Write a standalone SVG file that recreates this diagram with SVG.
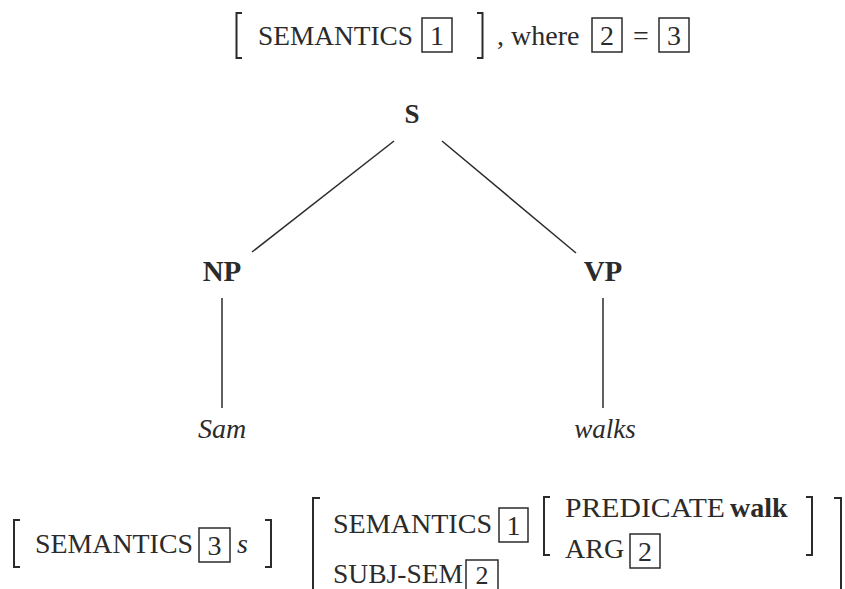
<svg xmlns="http://www.w3.org/2000/svg" width="845" height="589" viewBox="0 0 845 589">
<style>
text{font-family:"Liberation Serif","DejaVu Serif",serif;fill:#2b2b2b;font-size:28px}
.b{font-weight:bold}
.i{font-style:italic}
.c{text-anchor:middle}
.box{fill:none;stroke:#2b2b2b;stroke-width:1.5}
.br{fill:none;stroke:#2b2b2b;stroke-width:2}
.ln{stroke:#2b2b2b;stroke-width:1.5;fill:none}
</style>
<rect width="845" height="589" fill="#ffffff"/>
<g id="top-avm">
<path class="br" d="M242,13 H236.5 V58 H242"/>
<text x="258" y="45" textLength="155" lengthAdjust="spacingAndGlyphs">SEMANTICS</text>
<rect class="box" x="422" y="18" width="30" height="34"/>
<text class="c" x="437" y="45">1</text>
<path class="br" d="M477,13 H482.5 V58 H477"/>
<text x="497" y="45">, where</text>
<rect class="box" x="592" y="18" width="30" height="34"/>
<text class="c" x="607" y="45">2</text>
<text class="c" x="641" y="45">=</text>
<rect class="box" x="659" y="18" width="30" height="34"/>
<text class="c" x="674" y="45">3</text>
</g>
<g id="connectors">
<line class="ln" x1="394" y1="141" x2="252" y2="252"/>
<line class="ln" x1="442" y1="141" x2="576" y2="253"/>
<line class="ln" x1="222" y1="298" x2="222" y2="408"/>
<line class="ln" x1="603" y1="298" x2="603" y2="408"/>
</g>
<g id="node-S"><text class="b c" x="412" y="123" style="font-size:27px">S</text></g>
<g id="node-NP"><text class="b c" x="222" y="281" style="font-size:29px">NP</text></g>
<g id="node-VP"><text class="b c" x="603" y="281" style="font-size:29px">VP</text></g>
<g id="node-Sam"><text class="i c" x="222" y="438">Sam</text></g>
<g id="node-walks"><text class="i c" x="605" y="438" style="font-size:27px">walks</text></g>
<g id="np-avm">
<path class="br" d="M20,520 H14 V567 H20"/>
<text x="35" y="553" textLength="158" lengthAdjust="spacingAndGlyphs">SEMANTICS</text>
<rect class="box" x="199" y="528" width="31" height="34"/>
<text class="c" x="214.5" y="555">3</text>
<text class="i" x="237" y="553">s</text>
<path class="br" d="M265,520 H271 V567 H265"/>
</g>
<g id="vp-avm">
<path class="br" d="M320,498 H313 V600"/>
<text x="333" y="533" textLength="159" lengthAdjust="spacingAndGlyphs">SEMANTICS</text>
<rect class="box" x="499" y="508" width="29" height="34"/>
<text class="c" x="513.5" y="535">1</text>
<path class="br" d="M550,497 H544 V555 H550"/>
<text x="565" y="517" textLength="160" lengthAdjust="spacingAndGlyphs">PREDICATE</text>
<text class="b" x="730" y="517">walk</text>
<text x="565" y="558">ARG</text>
<rect class="box" x="630" y="534" width="30" height="34"/>
<text class="c" x="645" y="561">2</text>
<path class="br" d="M806,497 H812 V555 H806"/>
<path class="br" d="M834,498 H841 V600"/>
<text x="333" y="583" textLength="130" lengthAdjust="spacingAndGlyphs">SUBJ-SEM</text>
<rect class="box" x="466" y="560" width="32" height="34"/>
<text class="c" x="482" y="584" style="font-size:26px">2</text>
</g>
</svg>
